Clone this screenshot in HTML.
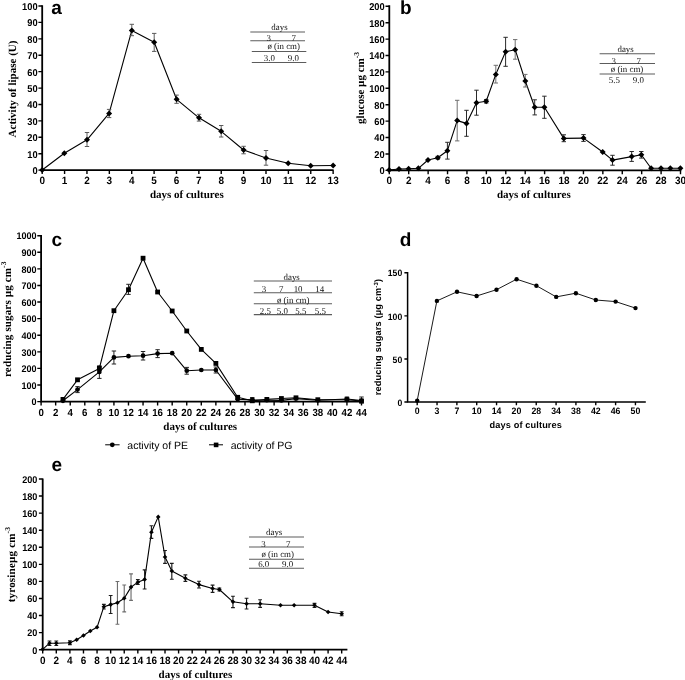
<!DOCTYPE html><html><head><meta charset="utf-8"><title>fig</title><style>html,body{margin:0;padding:0;background:#fff}svg{display:block;will-change:transform}</style></head><body>
<svg width="685" height="680" viewBox="0 0 685 680" text-rendering="geometricPrecision">
<rect width="685" height="680" fill="#fff"/>
<path d="M42.2 5.3V170.15H333.6" fill="none" stroke="#000" stroke-width="1.8" stroke-linejoin="miter"/>
<path d="M42.2 170.15V173.95M64.58 170.15V173.95M86.96 170.15V173.95M109.34 170.15V173.95M131.72 170.15V173.95M154.1 170.15V173.95M176.48 170.15V173.95M198.86 170.15V173.95M221.24 170.15V173.95M243.62 170.15V173.95M266 170.15V173.95M288.38 170.15V173.95M310.76 170.15V173.95M333.14 170.15V173.95M42.2 170.15H38.4M42.2 153.74H38.4M42.2 137.32H38.4M42.2 120.91H38.4M42.2 104.49H38.4M42.2 88.08H38.4M42.2 71.66H38.4M42.2 55.25H38.4M42.2 38.83H38.4M42.2 22.42H38.4M42.2 6H38.4" fill="none" stroke="#000" stroke-width="1.4"/>
<g font-family='"Liberation Sans", sans-serif' font-weight="bold" font-size="10.6" text-anchor="middle" fill="#000">
<text transform="translate(42.2 183.75) scale(0.94 1)">0</text>
<text transform="translate(64.58 183.75) scale(0.94 1)">1</text>
<text transform="translate(86.96 183.75) scale(0.94 1)">2</text>
<text transform="translate(109.34 183.75) scale(0.94 1)">3</text>
<text transform="translate(131.72 183.75) scale(0.94 1)">4</text>
<text transform="translate(154.1 183.75) scale(0.94 1)">5</text>
<text transform="translate(176.48 183.75) scale(0.94 1)">6</text>
<text transform="translate(198.86 183.75) scale(0.94 1)">7</text>
<text transform="translate(221.24 183.75) scale(0.94 1)">8</text>
<text transform="translate(243.62 183.75) scale(0.94 1)">9</text>
<text transform="translate(266 183.75) scale(0.94 1)">10</text>
<text transform="translate(288.38 183.75) scale(0.94 1)">11</text>
<text transform="translate(310.76 183.75) scale(0.94 1)">12</text>
<text transform="translate(333.14 183.75) scale(0.94 1)">13</text>
</g>
<g font-family='"Liberation Sans", sans-serif' font-weight="bold" font-size="9.9" text-anchor="end" fill="#000">
<text transform="translate(37.6 174.06) scale(0.94 1)">0</text>
<text transform="translate(37.6 157.65) scale(0.94 1)">10</text>
<text transform="translate(37.6 141.23) scale(0.94 1)">20</text>
<text transform="translate(37.6 124.82) scale(0.94 1)">30</text>
<text transform="translate(37.6 108.4) scale(0.94 1)">40</text>
<text transform="translate(37.6 91.99) scale(0.94 1)">50</text>
<text transform="translate(37.6 75.57) scale(0.94 1)">60</text>
<text transform="translate(37.6 59.16) scale(0.94 1)">70</text>
<text transform="translate(37.6 42.74) scale(0.94 1)">80</text>
<text transform="translate(37.6 26.33) scale(0.94 1)">90</text>
<text transform="translate(37.6 9.91) scale(0.94 1)">100</text>
</g>
<path d="M42.2 170L64.3 153.3L87 139.8L109.1 113.4L131.8 30.4L154.2 42.3L176.6 99.3L199 117.8L221.2 131.3L243.6 150L266 158L288.2 163.3L310.7 165.7L333.1 165.5" fill="none" stroke="#000" stroke-width="1.1" stroke-linejoin="round"/>
<path d="M87 132.5V146.5M84.8 132.5H89.2M84.8 146.5H89.2M109.1 109.4V117.6M106.9 109.4H111.3M106.9 117.6H111.3M131.8 24.3V35.7M129.6 24.3H134M129.6 35.7H134M154.2 33.4V51.4M152 33.4H156.4M152 51.4H156.4M176.6 95.1V103.3M174.4 95.1H178.8M174.4 103.3H178.8M199 114.3V121.1M196.8 114.3H201.2M196.8 121.1H201.2M221.2 125.5V137M219 125.5H223.4M219 137H223.4M243.6 146.3V153.8M241.4 146.3H245.8M241.4 153.8H245.8M266 150.5V165.2M263.8 150.5H268.2M263.8 165.2H268.2" fill="none" stroke="#5a5a5a" stroke-width="1.0"/>
<g fill="#000"><path d="M39.2 170L42.2 167L45.2 170L42.2 173Z"/><path d="M61.3 153.3L64.3 150.3L67.3 153.3L64.3 156.3Z"/><path d="M84 139.8L87 136.8L90 139.8L87 142.8Z"/><path d="M106.1 113.4L109.1 110.4L112.1 113.4L109.1 116.4Z"/><path d="M128.8 30.4L131.8 27.4L134.8 30.4L131.8 33.4Z"/><path d="M151.2 42.3L154.2 39.3L157.2 42.3L154.2 45.3Z"/><path d="M173.6 99.3L176.6 96.3L179.6 99.3L176.6 102.3Z"/><path d="M196 117.8L199 114.8L202 117.8L199 120.8Z"/><path d="M218.2 131.3L221.2 128.3L224.2 131.3L221.2 134.3Z"/><path d="M240.6 150L243.6 147L246.6 150L243.6 153Z"/><path d="M263 158L266 155L269 158L266 161Z"/><path d="M285.2 163.3L288.2 160.3L291.2 163.3L288.2 166.3Z"/><path d="M307.7 165.7L310.7 162.7L313.7 165.7L310.7 168.7Z"/><path d="M330.1 165.5L333.1 162.5L336.1 165.5L333.1 168.5Z"/></g>
<text x="56.5" y="14" font-family='"Liberation Sans", sans-serif' font-weight="bold" font-size="19" text-anchor="middle" fill="#000" >a</text>
<text transform="translate(16 89) rotate(-90)" font-family='"Liberation Serif", serif' font-weight="bold" font-size="11" text-anchor="middle" fill="#000" >Activity of lipase (U)</text>
<text x="186.8" y="197.8" font-family='"Liberation Serif", serif' font-weight="bold" font-size="11" text-anchor="middle" fill="#000" >days of cultures</text>
<path d="M250.3 31.9H305M250.3 40.7H305M251.8 51.5H306.3M251.8 62.5H306.3" fill="none" stroke="#5c5c5c" stroke-width="1.05"/>
<g font-family='"Liberation Serif", serif' font-size="8.9" text-anchor="middle" fill="#111">
<text x="279.5" y="29.8">days</text>
<text x="268.7" y="41.2">3</text>
<text x="293.8" y="41.2">7</text>
<text x="283.7" y="49.3">ø (in cm)</text>
<text x="269.4" y="61">3.0</text>
<text x="293.3" y="61">9.0</text>
</g>
<path d="M389.3 5.3V170.35H681.2" fill="none" stroke="#000" stroke-width="1.8" stroke-linejoin="miter"/>
<path d="M389.3 170.35V174.15M408.71 170.35V174.15M428.13 170.35V174.15M447.54 170.35V174.15M466.96 170.35V174.15M486.37 170.35V174.15M505.78 170.35V174.15M525.2 170.35V174.15M544.61 170.35V174.15M564.03 170.35V174.15M583.44 170.35V174.15M602.85 170.35V174.15M622.27 170.35V174.15M641.68 170.35V174.15M661.1 170.35V174.15M680.51 170.35V174.15M389.3 170.35H385.5M389.3 153.94H385.5M389.3 137.54H385.5M389.3 121.13H385.5M389.3 104.73H385.5M389.3 88.32H385.5M389.3 71.91H385.5M389.3 55.51H385.5M389.3 39.1H385.5M389.3 22.7H385.5M389.3 6.29H385.5" fill="none" stroke="#000" stroke-width="1.4"/>
<g font-family='"Liberation Sans", sans-serif' font-weight="bold" font-size="10.6" text-anchor="middle" fill="#000">
<text transform="translate(389.3 183.95) scale(0.94 1)">0</text>
<text transform="translate(408.71 183.95) scale(0.94 1)">2</text>
<text transform="translate(428.13 183.95) scale(0.94 1)">4</text>
<text transform="translate(447.54 183.95) scale(0.94 1)">6</text>
<text transform="translate(466.96 183.95) scale(0.94 1)">8</text>
<text transform="translate(486.37 183.95) scale(0.94 1)">10</text>
<text transform="translate(505.78 183.95) scale(0.94 1)">12</text>
<text transform="translate(525.2 183.95) scale(0.94 1)">14</text>
<text transform="translate(544.61 183.95) scale(0.94 1)">16</text>
<text transform="translate(564.03 183.95) scale(0.94 1)">18</text>
<text transform="translate(583.44 183.95) scale(0.94 1)">20</text>
<text transform="translate(602.85 183.95) scale(0.94 1)">22</text>
<text transform="translate(622.27 183.95) scale(0.94 1)">24</text>
<text transform="translate(641.68 183.95) scale(0.94 1)">26</text>
<text transform="translate(661.1 183.95) scale(0.94 1)">28</text>
<text transform="translate(680.51 183.95) scale(0.94 1)">30</text>
</g>
<g font-family='"Liberation Sans", sans-serif' font-weight="bold" font-size="9.9" text-anchor="end" fill="#000">
<text transform="translate(384.7 174.26) scale(0.94 1)">0</text>
<text transform="translate(384.7 157.85) scale(0.94 1)">20</text>
<text transform="translate(384.7 141.45) scale(0.94 1)">40</text>
<text transform="translate(384.7 125.04) scale(0.94 1)">60</text>
<text transform="translate(384.7 108.64) scale(0.94 1)">80</text>
<text transform="translate(384.7 92.23) scale(0.94 1)">100</text>
<text transform="translate(384.7 75.82) scale(0.94 1)">120</text>
<text transform="translate(384.7 59.42) scale(0.94 1)">140</text>
<text transform="translate(384.7 43.01) scale(0.94 1)">160</text>
<text transform="translate(384.7 26.61) scale(0.94 1)">180</text>
<text transform="translate(384.7 10.2) scale(0.94 1)">200</text>
</g>
<path d="M389.1 170L399 169L408.6 168.7L418.4 168.3L428 160L437.8 157.7L447.4 150.7L457.2 120.6L466.5 123.4L476.5 102.7L486.2 101.3L495.8 74.4L505.6 51.8L515.2 49.7L525.3 81L534.7 107.3L544.4 107.3L563.8 138.4L583.5 138.1L602.7 152L612.5 160.1L631.7 156.6L641.3 154.8L651.1 168.2L661 168.3L670.3 168.3L680.4 168.3" fill="none" stroke="#000" stroke-width="1.1" stroke-linejoin="round"/>
<path d="M437.8 156.3V159.1M435.6 156.3H440M435.6 159.1H440M447.4 142.3V159.1M445.2 142.3H449.6M445.2 159.1H449.6M466.5 110.3V136.3M464.3 110.3H468.7M464.3 136.3H468.7M476.5 90.2V115.2M474.3 90.2H478.7M474.3 115.2H478.7M486.2 99.6V103M484 99.6H488.4M484 103H488.4M505.6 37.3V66.3M503.4 37.3H507.8M503.4 66.3H507.8M534.7 99.8V114.9M532.5 99.8H536.9M532.5 114.9H536.9M544.4 96.2V118.3M542.2 96.2H546.6M542.2 118.3H546.6M563.8 134.8V141.7M561.6 134.8H566M561.6 141.7H566M583.5 134.6V141.4M581.3 134.6H585.7M581.3 141.4H585.7M612.5 155.3V165.2M610.3 155.3H614.7M610.3 165.2H614.7M631.7 151.5V161.4M629.5 151.5H633.9M629.5 161.4H633.9M641.3 151.5V158.1M639.1 151.5H643.5M639.1 158.1H643.5" fill="none" stroke="#2a2a2a" stroke-width="1.0"/>
<path d="M457.2 100.3V140.9M455 100.3H459.4M455 140.9H459.4M495.8 65.3V83M493.6 65.3H498M493.6 83H498M515.2 39.6V59.2M513 39.6H517.4M513 59.2H517.4M525.3 74.4V87M523.1 74.4H527.5M523.1 87H527.5" fill="none" stroke="#6e6e6e" stroke-width="1.0"/>
<g fill="#000"><path d="M386.1 170L389.1 167L392.1 170L389.1 173Z"/><path d="M396 169L399 166L402 169L399 172Z"/><path d="M405.6 168.7L408.6 165.7L411.6 168.7L408.6 171.7Z"/><path d="M415.4 168.3L418.4 165.3L421.4 168.3L418.4 171.3Z"/><path d="M425 160L428 157L431 160L428 163Z"/><path d="M434.8 157.7L437.8 154.7L440.8 157.7L437.8 160.7Z"/><path d="M444.4 150.7L447.4 147.7L450.4 150.7L447.4 153.7Z"/><path d="M454.2 120.6L457.2 117.6L460.2 120.6L457.2 123.6Z"/><path d="M463.5 123.4L466.5 120.4L469.5 123.4L466.5 126.4Z"/><path d="M473.5 102.7L476.5 99.7L479.5 102.7L476.5 105.7Z"/><path d="M483.2 101.3L486.2 98.3L489.2 101.3L486.2 104.3Z"/><path d="M492.8 74.4L495.8 71.4L498.8 74.4L495.8 77.4Z"/><path d="M502.6 51.8L505.6 48.8L508.6 51.8L505.6 54.8Z"/><path d="M512.2 49.7L515.2 46.7L518.2 49.7L515.2 52.7Z"/><path d="M522.3 81L525.3 78L528.3 81L525.3 84Z"/><path d="M531.7 107.3L534.7 104.3L537.7 107.3L534.7 110.3Z"/><path d="M541.4 107.3L544.4 104.3L547.4 107.3L544.4 110.3Z"/><path d="M560.8 138.4L563.8 135.4L566.8 138.4L563.8 141.4Z"/><path d="M580.5 138.1L583.5 135.1L586.5 138.1L583.5 141.1Z"/><path d="M599.7 152L602.7 149L605.7 152L602.7 155Z"/><path d="M609.5 160.1L612.5 157.1L615.5 160.1L612.5 163.1Z"/><path d="M628.7 156.6L631.7 153.6L634.7 156.6L631.7 159.6Z"/><path d="M638.3 154.8L641.3 151.8L644.3 154.8L641.3 157.8Z"/><path d="M648.1 168.2L651.1 165.2L654.1 168.2L651.1 171.2Z"/><path d="M658 168.3L661 165.3L664 168.3L661 171.3Z"/><path d="M667.3 168.3L670.3 165.3L673.3 168.3L670.3 171.3Z"/><path d="M677.4 168.3L680.4 165.3L683.4 168.3L680.4 171.3Z"/></g>
<text x="405.7" y="14" font-family='"Liberation Sans", sans-serif' font-weight="bold" font-size="19" text-anchor="middle" fill="#000" >b</text>
<text transform="translate(364.2 88) rotate(-90)" font-family='"Liberation Serif", serif' font-weight="bold" font-size="11" text-anchor="middle" fill="#000" >glucose µg cm<tspan dy="-5.2" font-size="7.5">-3</tspan></text>
<text x="533.8" y="197.8" font-family='"Liberation Serif", serif' font-weight="bold" font-size="11" text-anchor="middle" fill="#000" >days of cultures</text>
<path d="M599.6 53.8H655M599.6 63.4H655M599.6 74H655" fill="none" stroke="#5c5c5c" stroke-width="1.05"/>
<g font-family='"Liberation Serif", serif' font-size="8.9" text-anchor="middle" fill="#111">
<text x="625.6" y="52.3">days</text>
<text x="613.8" y="63.8">3</text>
<text x="638.8" y="63.8">7</text>
<text x="627" y="72.2">ø (in cm)</text>
<text x="614.3" y="83.3">5.5</text>
<text x="638.3" y="83.3">9.0</text>
</g>
<path d="M41.1 235.1V401.6H362" fill="none" stroke="#000" stroke-width="1.8" stroke-linejoin="miter"/>
<path d="M41.1 401.6V405.4M55.66 401.6V405.4M70.23 401.6V405.4M84.79 401.6V405.4M99.36 401.6V405.4M113.92 401.6V405.4M128.48 401.6V405.4M143.05 401.6V405.4M157.61 401.6V405.4M172.18 401.6V405.4M186.74 401.6V405.4M201.3 401.6V405.4M215.87 401.6V405.4M230.43 401.6V405.4M245 401.6V405.4M259.56 401.6V405.4M274.12 401.6V405.4M288.69 401.6V405.4M303.25 401.6V405.4M317.82 401.6V405.4M332.38 401.6V405.4M346.94 401.6V405.4M361.51 401.6V405.4M41.1 401.6H37.3M41.1 385.01H37.3M41.1 368.42H37.3M41.1 351.83H37.3M41.1 335.24H37.3M41.1 318.65H37.3M41.1 302.06H37.3M41.1 285.47H37.3M41.1 268.88H37.3M41.1 252.29H37.3M41.1 235.7H37.3" fill="none" stroke="#000" stroke-width="1.4"/>
<g font-family='"Liberation Sans", sans-serif' font-weight="bold" font-size="10.3" text-anchor="middle" fill="#000">
<text transform="translate(41.1 415.7) scale(0.94 1)">0</text>
<text transform="translate(55.66 415.7) scale(0.94 1)">2</text>
<text transform="translate(70.23 415.7) scale(0.94 1)">4</text>
<text transform="translate(84.79 415.7) scale(0.94 1)">6</text>
<text transform="translate(99.36 415.7) scale(0.94 1)">8</text>
<text transform="translate(113.92 415.7) scale(0.94 1)">10</text>
<text transform="translate(128.48 415.7) scale(0.94 1)">12</text>
<text transform="translate(143.05 415.7) scale(0.94 1)">14</text>
<text transform="translate(157.61 415.7) scale(0.94 1)">16</text>
<text transform="translate(172.18 415.7) scale(0.94 1)">18</text>
<text transform="translate(186.74 415.7) scale(0.94 1)">20</text>
<text transform="translate(201.3 415.7) scale(0.94 1)">22</text>
<text transform="translate(215.87 415.7) scale(0.94 1)">24</text>
<text transform="translate(230.43 415.7) scale(0.94 1)">26</text>
<text transform="translate(245 415.7) scale(0.94 1)">28</text>
<text transform="translate(259.56 415.7) scale(0.94 1)">30</text>
<text transform="translate(274.12 415.7) scale(0.94 1)">32</text>
<text transform="translate(288.69 415.7) scale(0.94 1)">34</text>
<text transform="translate(303.25 415.7) scale(0.94 1)">36</text>
<text transform="translate(317.82 415.7) scale(0.94 1)">38</text>
<text transform="translate(332.38 415.7) scale(0.94 1)">40</text>
<text transform="translate(346.94 415.7) scale(0.94 1)">42</text>
<text transform="translate(361.51 415.7) scale(0.94 1)">44</text>
</g>
<g font-family='"Liberation Sans", sans-serif' font-weight="bold" font-size="9.6" text-anchor="end" fill="#000">
<text transform="translate(36.5 405.39) scale(0.94 1)">0</text>
<text transform="translate(36.5 388.8) scale(0.94 1)">100</text>
<text transform="translate(36.5 372.21) scale(0.94 1)">200</text>
<text transform="translate(36.5 355.62) scale(0.94 1)">300</text>
<text transform="translate(36.5 339.03) scale(0.94 1)">400</text>
<text transform="translate(36.5 322.44) scale(0.94 1)">500</text>
<text transform="translate(36.5 305.85) scale(0.94 1)">600</text>
<text transform="translate(36.5 289.26) scale(0.94 1)">700</text>
<text transform="translate(36.5 272.67) scale(0.94 1)">800</text>
<text transform="translate(36.5 256.08) scale(0.94 1)">900</text>
<text transform="translate(36.5 239.49) scale(0.94 1)">1000</text>
</g>
<path d="M62.95 400.8L77.51 389.6L99.36 371.9L113.92 357.4L128.48 356.2L143.05 355.7L157.61 353.6L172.18 353.2L186.74 370.7L201.3 370L215.87 370L237.71 399.2L252.28 399.9L266.84 400.2L281.41 400.4L295.97 398.6L317.82 400.3L346.94 399L361.51 400.5" fill="none" stroke="#000" stroke-width="1.1" stroke-linejoin="round"/>
<path d="M77.51 386.6V392.6M75.31 386.6H79.71M75.31 392.6H79.71M99.36 365.8V378.4M97.16 365.8H101.56M97.16 378.4H101.56M113.92 351V364M111.72 351H116.12M111.72 364H116.12M143.05 351.5V360M140.85 351.5H145.25M140.85 360H145.25M157.61 349.7V357.6M155.41 349.7H159.81M155.41 357.6H159.81M186.74 367.4V374.2M184.54 367.4H188.94M184.54 374.2H188.94M215.87 367V373M213.67 367H218.07M213.67 373H218.07M252.28 397.5V402M250.08 397.5H254.48M250.08 402H254.48M346.94 397V401M344.74 397H349.14M344.74 401H349.14M361.51 397V403M359.31 397H363.71M359.31 403H363.71" fill="none" stroke="#222" stroke-width="1.0"/>
<g fill="#000"><circle cx="62.95" cy="400.8" r="2.35"/><circle cx="77.51" cy="389.6" r="2.35"/><circle cx="99.36" cy="371.9" r="2.35"/><circle cx="113.92" cy="357.4" r="2.35"/><circle cx="128.48" cy="356.2" r="2.35"/><circle cx="143.05" cy="355.7" r="2.35"/><circle cx="157.61" cy="353.6" r="2.35"/><circle cx="172.18" cy="353.2" r="2.35"/><circle cx="186.74" cy="370.7" r="2.35"/><circle cx="201.3" cy="370" r="2.35"/><circle cx="215.87" cy="370" r="2.35"/><circle cx="237.71" cy="399.2" r="2.35"/><circle cx="252.28" cy="399.9" r="2.35"/><circle cx="266.84" cy="400.2" r="2.35"/><circle cx="281.41" cy="400.4" r="2.35"/><circle cx="295.97" cy="398.6" r="2.35"/><circle cx="317.82" cy="400.3" r="2.35"/><circle cx="346.94" cy="399" r="2.35"/><circle cx="361.51" cy="400.5" r="2.35"/></g>
<path d="M62.95 399.4L77.51 379.8L99.36 368.4L113.92 310.7L128.48 289.7L143.05 258.2L157.61 292L172.18 311L186.74 331L201.3 349.4L215.87 363.4L237.71 397.3L252.28 400.8L266.84 399.4L281.41 398.5L295.97 397.8L317.82 399.7L346.94 399.7L361.51 401" fill="none" stroke="#000" stroke-width="1.1" stroke-linejoin="round"/>
<path d="M128.48 284.3V294.4M126.28 284.3H130.68M126.28 294.4H130.68" fill="none" stroke="#222" stroke-width="1.0"/>
<g fill="#000"><rect x="60.55" y="397" width="4.8" height="4.8"/><rect x="75.11" y="377.4" width="4.8" height="4.8"/><rect x="96.96" y="366" width="4.8" height="4.8"/><rect x="111.52" y="308.3" width="4.8" height="4.8"/><rect x="126.08" y="287.3" width="4.8" height="4.8"/><rect x="140.65" y="255.8" width="4.8" height="4.8"/><rect x="155.21" y="289.6" width="4.8" height="4.8"/><rect x="169.78" y="308.6" width="4.8" height="4.8"/><rect x="184.34" y="328.6" width="4.8" height="4.8"/><rect x="198.9" y="347" width="4.8" height="4.8"/><rect x="213.47" y="361" width="4.8" height="4.8"/><rect x="235.31" y="394.9" width="4.8" height="4.8"/><rect x="249.88" y="398.4" width="4.8" height="4.8"/><rect x="264.44" y="397" width="4.8" height="4.8"/><rect x="279.01" y="396.1" width="4.8" height="4.8"/><rect x="293.57" y="395.4" width="4.8" height="4.8"/><rect x="315.42" y="397.3" width="4.8" height="4.8"/><rect x="344.54" y="397.3" width="4.8" height="4.8"/><rect x="359.11" y="398.6" width="4.8" height="4.8"/></g>
<text x="56.7" y="245.8" font-family='"Liberation Sans", sans-serif' font-weight="bold" font-size="19" text-anchor="middle" fill="#000" >c</text>
<text transform="translate(10.8 319.2) rotate(-90)" font-family='"Liberation Serif", serif' font-weight="bold" font-size="11" text-anchor="middle" fill="#000" letter-spacing="0.14">reducing sugars  µg cm<tspan dy="-5.2" font-size="7.5">-3</tspan></text>
<text x="200.2" y="429.6" font-family='"Liberation Serif", serif' font-weight="bold" font-size="11" text-anchor="middle" fill="#000" >days of cultures</text>
<path d="M253.8 281H332M253.8 292.7H332M253.8 303.8H332M253.8 314.6H332" fill="none" stroke="#5c5c5c" stroke-width="1.05"/>
<g font-family='"Liberation Serif", serif' font-size="8.9" text-anchor="middle" fill="#111">
<text x="291.7" y="279.6">days</text>
<text x="264" y="291.6">3</text>
<text x="281.2" y="291.6">7</text>
<text x="298.1" y="291.6">10</text>
<text x="319.7" y="291.6">14</text>
<text x="293.2" y="302.5">ø (in cm)</text>
<text x="265.4" y="313.6">2.5</text>
<text x="282.4" y="313.6">5.0</text>
<text x="300.8" y="313.6">5.5</text>
<text x="320.3" y="313.6">5.5</text>
</g>
<path d="M105.2 444.8H119.6M209 444.8H223" stroke="#000" stroke-width="1" fill="none"/>
<circle cx="112.3" cy="444.8" r="2.4" fill="#000"/><rect x="213.8" y="442.6" width="4.6" height="4.6" fill="#000"/>
<text x="127.3" y="449" font-family='"Liberation Sans", sans-serif' font-weight="normal" font-size="10.5" text-anchor="start" fill="#000" >activity of PE</text>
<text x="230.7" y="449" font-family='"Liberation Sans", sans-serif' font-weight="normal" font-size="10.5" text-anchor="start" fill="#000" >activity of PG</text>
<path d="M407.6 272.1V402H645.8" fill="none" stroke="#000" stroke-width="1.5" stroke-linejoin="miter"/>
<path d="M417.2 402V405.2M437.04 402V405.2M456.88 402V405.2M476.72 402V405.2M496.56 402V405.2M516.4 402V405.2M536.24 402V405.2M556.08 402V405.2M575.92 402V405.2M595.76 402V405.2M615.6 402V405.2M635.44 402V405.2M407.6 402H404.4M407.6 358.94H404.4M407.6 315.87H404.4M407.6 272.81H404.4" fill="none" stroke="#000" stroke-width="1.4"/>
<g font-family='"Liberation Sans", sans-serif' font-weight="bold" font-size="9.3" text-anchor="middle" fill="#000">
<text transform="translate(417.2 414.3) scale(0.94 1)">0</text>
<text transform="translate(437.04 414.3) scale(0.94 1)">3</text>
<text transform="translate(456.88 414.3) scale(0.94 1)">7</text>
<text transform="translate(476.72 414.3) scale(0.94 1)">10</text>
<text transform="translate(496.56 414.3) scale(0.94 1)">14</text>
<text transform="translate(516.4 414.3) scale(0.94 1)">20</text>
<text transform="translate(536.24 414.3) scale(0.94 1)">28</text>
<text transform="translate(556.08 414.3) scale(0.94 1)">34</text>
<text transform="translate(575.92 414.3) scale(0.94 1)">38</text>
<text transform="translate(595.76 414.3) scale(0.94 1)">42</text>
<text transform="translate(615.6 414.3) scale(0.94 1)">46</text>
<text transform="translate(635.44 414.3) scale(0.94 1)">50</text>
</g>
<g font-family='"Liberation Sans", sans-serif' font-weight="bold" font-size="9.2" text-anchor="end" fill="#000">
<text transform="translate(402.2 405.63) scale(0.94 1)">0</text>
<text transform="translate(402.2 362.57) scale(0.94 1)">50</text>
<text transform="translate(402.2 319.5) scale(0.94 1)">100</text>
<text transform="translate(402.2 276.44) scale(0.94 1)">150</text>
</g>
<path d="M417.2 400.6L436.9 300.9L457 291.8L476.6 296L496.5 289.7L516.6 279.2L536.4 285.7L556.2 296.9L575.9 293.2L595.8 300L615.6 301.6L635.5 308.1" fill="none" stroke="#000" stroke-width="0.9" stroke-linejoin="round"/>
<g fill="#000"><circle cx="417.2" cy="400.6" r="2.2"/><circle cx="436.9" cy="300.9" r="2.2"/><circle cx="457" cy="291.8" r="2.2"/><circle cx="476.6" cy="296" r="2.2"/><circle cx="496.5" cy="289.7" r="2.2"/><circle cx="516.6" cy="279.2" r="2.2"/><circle cx="536.4" cy="285.7" r="2.2"/><circle cx="556.2" cy="296.9" r="2.2"/><circle cx="575.9" cy="293.2" r="2.2"/><circle cx="595.8" cy="300" r="2.2"/><circle cx="615.6" cy="301.6" r="2.2"/><circle cx="635.5" cy="308.1" r="2.2"/></g>
<text x="405.5" y="246" font-family='"Liberation Sans", sans-serif' font-weight="bold" font-size="19" text-anchor="middle" fill="#000" >d</text>
<text transform="translate(381 337) rotate(-90)" font-family='"Liberation Sans", sans-serif' font-weight="bold" font-size="9.2" text-anchor="middle" fill="#000" letter-spacing="0.17">reducing sugars (µg cm<tspan baseline-shift="super" font-size="6">-3</tspan>)</text>
<text x="525.8" y="428" font-family='"Liberation Sans", sans-serif' font-weight="bold" font-size="9.2" text-anchor="middle" fill="#000" letter-spacing="0.13">days of cultures</text>
<path d="M42.7 478.5V649.7H347.4" fill="none" stroke="#000" stroke-width="1.8" stroke-linejoin="miter"/>
<path d="M42.7 649.7V653.5M56.29 649.7V653.5M69.88 649.7V653.5M83.47 649.7V653.5M97.06 649.7V653.5M110.65 649.7V653.5M124.24 649.7V653.5M137.83 649.7V653.5M151.42 649.7V653.5M165.01 649.7V653.5M178.6 649.7V653.5M192.19 649.7V653.5M205.78 649.7V653.5M219.37 649.7V653.5M232.96 649.7V653.5M246.55 649.7V653.5M260.14 649.7V653.5M273.73 649.7V653.5M287.32 649.7V653.5M300.91 649.7V653.5M314.5 649.7V653.5M328.09 649.7V653.5M341.68 649.7V653.5M42.7 649.7H38.9M42.7 632.63H38.9M42.7 615.56H38.9M42.7 598.49H38.9M42.7 581.42H38.9M42.7 564.35H38.9M42.7 547.28H38.9M42.7 530.21H38.9M42.7 513.14H38.9M42.7 496.07H38.9M42.7 479H38.9" fill="none" stroke="#000" stroke-width="1.4"/>
<g font-family='"Liberation Sans", sans-serif' font-weight="bold" font-size="10.6" text-anchor="middle" fill="#000">
<text transform="translate(42.7 664) scale(0.94 1)">0</text>
<text transform="translate(56.29 664) scale(0.94 1)">2</text>
<text transform="translate(69.88 664) scale(0.94 1)">4</text>
<text transform="translate(83.47 664) scale(0.94 1)">6</text>
<text transform="translate(97.06 664) scale(0.94 1)">8</text>
<text transform="translate(110.65 664) scale(0.94 1)">10</text>
<text transform="translate(124.24 664) scale(0.94 1)">12</text>
<text transform="translate(137.83 664) scale(0.94 1)">14</text>
<text transform="translate(151.42 664) scale(0.94 1)">16</text>
<text transform="translate(165.01 664) scale(0.94 1)">18</text>
<text transform="translate(178.6 664) scale(0.94 1)">20</text>
<text transform="translate(192.19 664) scale(0.94 1)">22</text>
<text transform="translate(205.78 664) scale(0.94 1)">24</text>
<text transform="translate(219.37 664) scale(0.94 1)">26</text>
<text transform="translate(232.96 664) scale(0.94 1)">28</text>
<text transform="translate(246.55 664) scale(0.94 1)">30</text>
<text transform="translate(260.14 664) scale(0.94 1)">32</text>
<text transform="translate(273.73 664) scale(0.94 1)">34</text>
<text transform="translate(287.32 664) scale(0.94 1)">36</text>
<text transform="translate(300.91 664) scale(0.94 1)">38</text>
<text transform="translate(314.5 664) scale(0.94 1)">40</text>
<text transform="translate(328.09 664) scale(0.94 1)">42</text>
<text transform="translate(341.68 664) scale(0.94 1)">44</text>
</g>
<g font-family='"Liberation Sans", sans-serif' font-weight="bold" font-size="9.7" text-anchor="end" fill="#000">
<text transform="translate(37.4 653.53) scale(0.94 1)">0</text>
<text transform="translate(37.4 636.46) scale(0.94 1)">20</text>
<text transform="translate(37.4 619.39) scale(0.94 1)">40</text>
<text transform="translate(37.4 602.32) scale(0.94 1)">60</text>
<text transform="translate(37.4 585.25) scale(0.94 1)">80</text>
<text transform="translate(37.4 568.18) scale(0.94 1)">100</text>
<text transform="translate(37.4 551.11) scale(0.94 1)">120</text>
<text transform="translate(37.4 534.04) scale(0.94 1)">140</text>
<text transform="translate(37.4 516.97) scale(0.94 1)">160</text>
<text transform="translate(37.4 499.9) scale(0.94 1)">180</text>
<text transform="translate(37.4 482.83) scale(0.94 1)">200</text>
</g>
<path d="M42.7 649.3L49.5 643.2L56.29 643.2L69.88 642.7L76.68 639.7L83.47 635.5L90.27 631L97.06 627.3L103.86 606.7L110.65 604.6L117.45 602.7L124.24 598.3L131.03 587.1L137.83 582.2L144.62 579.4L151.42 532.3L158.22 516.9L165.01 557L171.81 571L185.39 578.2L198.99 584.6L212.57 588.5L219.37 589.5L232.96 601.8L246.55 603.8L260.14 603.8L280.52 605.3L294.12 605.3L314.5 605.3L328.09 612L341.68 613.7" fill="none" stroke="#000" stroke-width="1.1" stroke-linejoin="round"/>
<path d="M49.5 641V645.5M47.6 641H51.4M47.6 645.5H51.4M56.29 641V645.5M54.39 641H58.19M54.39 645.5H58.19M69.88 640.8V644.6M67.98 640.8H71.78M67.98 644.6H71.78M103.86 604.4V609M101.95 604.4H105.76M101.95 609H105.76M110.65 595.5V613.5M108.75 595.5H112.55M108.75 613.5H112.55M137.83 579.6V584.5M135.93 579.6H139.73M135.93 584.5H139.73M144.62 569.8V589M142.72 569.8H146.53M142.72 589H146.53M151.42 525.7V538.4M149.52 525.7H153.32M149.52 538.4H153.32M165.01 550.5V563.3M163.11 550.5H166.91M163.11 563.3H166.91M171.81 563.3V579.2M169.91 563.3H173.71M169.91 579.2H173.71M185.39 574.8V581.3M183.49 574.8H187.29M183.49 581.3H187.29M198.99 581.2V588M197.09 581.2H200.89M197.09 588H200.89M212.57 585.1V592.4M210.67 585.1H214.47M210.67 592.4H214.47M219.37 588V591M217.47 588H221.27M217.47 591H221.27M232.96 596.2V607.6M231.06 596.2H234.86M231.06 607.6H234.86M246.55 598.2V609M244.65 598.2H248.45M244.65 609H248.45M260.14 599.7V607.3M258.24 599.7H262.04M258.24 607.3H262.04M314.5 603.3V607.3M312.6 603.3H316.4M312.6 607.3H316.4M341.68 611.7V615.7M339.78 611.7H343.58M339.78 615.7H343.58" fill="none" stroke="#1c1c1c" stroke-width="1.15"/>
<path d="M117.45 581.5V624.2M115.55 581.5H119.35M115.55 624.2H119.35M124.24 585V611.9M122.34 585H126.14M122.34 611.9H126.14M131.03 573.8V600.4M129.13 573.8H132.94M129.13 600.4H132.94" fill="none" stroke="#6e6e6e" stroke-width="1.15"/>
<g fill="#000"><path d="M40.4 649.3L42.7 647L45 649.3L42.7 651.6Z"/><path d="M47.2 643.2L49.5 640.9L51.8 643.2L49.5 645.5Z"/><path d="M53.99 643.2L56.29 640.9L58.59 643.2L56.29 645.5Z"/><path d="M67.58 642.7L69.88 640.4L72.18 642.7L69.88 645Z"/><path d="M74.38 639.7L76.68 637.4L78.98 639.7L76.68 642Z"/><path d="M81.17 635.5L83.47 633.2L85.77 635.5L83.47 637.8Z"/><path d="M87.97 631L90.27 628.7L92.56 631L90.27 633.3Z"/><path d="M94.76 627.3L97.06 625L99.36 627.3L97.06 629.6Z"/><path d="M101.56 606.7L103.86 604.4L106.16 606.7L103.86 609Z"/><path d="M108.35 604.6L110.65 602.3L112.95 604.6L110.65 606.9Z"/><path d="M115.15 602.7L117.45 600.4L119.75 602.7L117.45 605Z"/><path d="M121.94 598.3L124.24 596L126.54 598.3L124.24 600.6Z"/><path d="M128.73 587.1L131.03 584.8L133.34 587.1L131.03 589.4Z"/><path d="M135.53 582.2L137.83 579.9L140.13 582.2L137.83 584.5Z"/><path d="M142.32 579.4L144.62 577.1L146.93 579.4L144.62 581.7Z"/><path d="M149.12 532.3L151.42 530L153.72 532.3L151.42 534.6Z"/><path d="M155.91 516.9L158.22 514.6L160.52 516.9L158.22 519.2Z"/><path d="M162.71 557L165.01 554.7L167.31 557L165.01 559.3Z"/><path d="M169.5 571L171.81 568.7L174.11 571L171.81 573.3Z"/><path d="M183.09 578.2L185.39 575.9L187.69 578.2L185.39 580.5Z"/><path d="M196.69 584.6L198.99 582.3L201.29 584.6L198.99 586.9Z"/><path d="M210.27 588.5L212.57 586.2L214.88 588.5L212.57 590.8Z"/><path d="M217.07 589.5L219.37 587.2L221.67 589.5L219.37 591.8Z"/><path d="M230.66 601.8L232.96 599.5L235.26 601.8L232.96 604.1Z"/><path d="M244.25 603.8L246.55 601.5L248.85 603.8L246.55 606.1Z"/><path d="M257.84 603.8L260.14 601.5L262.44 603.8L260.14 606.1Z"/><path d="M278.22 605.3L280.52 603L282.82 605.3L280.52 607.6Z"/><path d="M291.81 605.3L294.12 603L296.42 605.3L294.12 607.6Z"/><path d="M312.2 605.3L314.5 603L316.8 605.3L314.5 607.6Z"/><path d="M325.79 612L328.09 609.7L330.39 612L328.09 614.3Z"/><path d="M339.38 613.7L341.68 611.4L343.98 613.7L341.68 616Z"/></g>
<text x="56.7" y="471.3" font-family='"Liberation Sans", sans-serif' font-weight="bold" font-size="19" text-anchor="middle" fill="#000" >e</text>
<text transform="translate(15 564.5) rotate(-90)" font-family='"Liberation Serif", serif' font-weight="bold" font-size="11" text-anchor="middle" fill="#000" letter-spacing="0.2">tyrosineµg cm<tspan dy="-5.2" font-size="7.5">-3</tspan></text>
<text x="195.4" y="678" font-family='"Liberation Serif", serif' font-weight="bold" font-size="11" text-anchor="middle" fill="#000" >days of cultures</text>
<path d="M249 537H304M249 547H304M249 559.3H304M249 568.3H304" fill="none" stroke="#5c5c5c" stroke-width="1.05"/>
<g font-family='"Liberation Serif", serif' font-size="8.9" text-anchor="middle" fill="#111">
<text x="274.2" y="535.3">days</text>
<text x="263.4" y="547.2">3</text>
<text x="288.2" y="547.2">7</text>
<text x="277.7" y="557">ø (in cm)</text>
<text x="263.7" y="567.2">6.0</text>
<text x="287.6" y="567.2">9.0</text>
</g>
</svg></body></html>
